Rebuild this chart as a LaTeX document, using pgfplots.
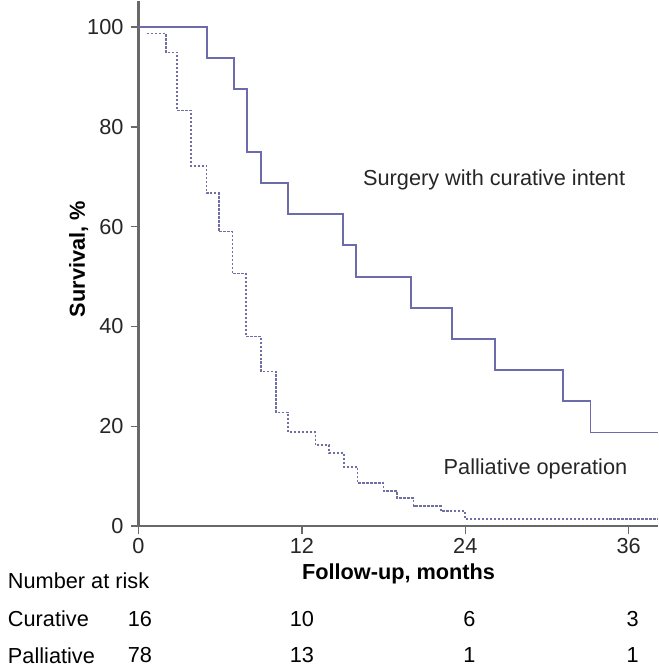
\documentclass[border=0pt]{standalone}
\usepackage{fontspec}
\setmainfont{Liberation Sans}
\usepackage{pgfplots}
\pgfplotsset{compat=1.18}
\definecolor{km}{RGB}{108,108,172}
\definecolor{axgray}{RGB}{105,105,105}
\newcommand{\fs}{\fontsize{10.9}{13}\selectfont}
\begin{document}
\begin{tikzpicture}
\begin{axis}[
  scale only axis, width=260.5pt, height=263.5pt,
  xmin=0, xmax=38.12, ymin=0, ymax=105.2,
  axis lines=left,
  axis line style={axgray, line width=1.1pt, -},
  xtick={0,12,24,36}, ytick={0,20,40,60,80,100},
  tick style={axgray, line width=0.7pt},
  tick align=outside, major tick length=4pt,
  tick label style={font=\fs, text=black!85},
  xticklabel style={yshift=1.5pt},
  /pgf/number format/assume math mode=true,
  clip=false,
]
% Surgery with curative intent
\addplot[const plot, km, line width=0.95pt] coordinates {
(0,100) (5,93.75) (7,87.5) (8,75) (9,68.75) (11,62.5) (15,56.25) (16,50)
(20,43.75) (23,37.5) (26.2,31.25) (31.2,25) (33.2,18.75) (38.12,18.75)};
% Palliative operation
\addplot[const plot, km!85!gray, line width=0.8pt, dash pattern=on 1.2pt off 0.8pt] coordinates {
(0.6,98.7) (2,94.9) (2.85,83.3) (3.85,72.2) (5,66.7) (5.9,59) (6.9,50.6)
(7.9,38) (9,31) (10.1,22.8) (11,18.8) (13,16.2) (14,14.6) (15.1,11.8)
(16.1,8.6) (18,7.0) (19,5.6) (20.2,4.0) (22.2,3.0) (24,1.4) (38.12,1.4)};

\node[font=\fs, text=black!85] at (axis cs:26.12,69.3) {Surgery with curative intent};
\node[font=\fs, text=black!85, anchor=west] at (axis cs:21.9,11.4) {Palliative operation};
\node[font=\fs\bfseries, rotate=90] at (axis cs:-4.39,53.5) {Survival, \%};
\node[font=\fs\bfseries] at (axis cs:19.1,-9.6) {Follow-up, months};
\node[font=\fs, anchor=west] at (axis cs:-10.1,-11.0) {Number at risk};
\node[font=\fs, anchor=west] at (axis cs:-10.1,-18.6) {Curative};
\node[font=\fs, anchor=west] at (axis cs:-10.1,-25.9) {Palliative};
\node[font=\fs] at (axis cs:0.1,-18.6) {16};
\node[font=\fs] at (axis cs:12.0,-18.6) {10};
\node[font=\fs] at (axis cs:24.3,-18.6) {6};
\node[font=\fs] at (axis cs:36.3,-18.6) {3};
\node[font=\fs] at (axis cs:0.1,-25.9) {78};
\node[font=\fs] at (axis cs:12.0,-25.9) {13};
\node[font=\fs] at (axis cs:24.3,-25.9) {1};
\node[font=\fs] at (axis cs:36.3,-25.9) {1};
\path (axis cs:-10.17,105.2) rectangle (axis cs:38.12,-28.54);
\end{axis}
\end{tikzpicture}
\end{document}
